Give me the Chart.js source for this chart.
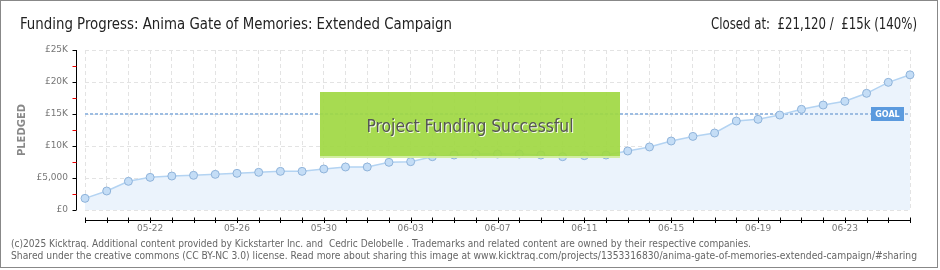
<!DOCTYPE html>
<html>
<head>
<meta charset="utf-8">
<script src="https://cdn.jsdelivr.net/npm/chart.js@4.4.1/dist/chart.umd.min.js"></script>
<style>
    html, body { margin: 0; padding: 0; background: #fff; }
    canvas { display: block; }
</style>
</head>
<body>
<canvas id="funding-chart" width="940" height="270"></canvas>
<script>
const days = [
    "05-19", "05-20", "05-21", "05-22", "05-23", "05-24", "05-25", "05-26",
    "05-27", "05-28", "05-29", "05-30", "05-31", "06-01", "06-02", "06-03",
    "06-04", "06-05", "06-06", "06-07", "06-08", "06-09", "06-10", "06-11",
    "06-12", "06-13", "06-14", "06-15", "06-16", "06-17", "06-18", "06-19",
    "06-20", "06-21", "06-22", "06-23", "06-24", "06-25", "06-26"
];
const pledged = [
    1820, 2970, 4480, 5100, 5310, 5420, 5570, 5730,
    5890, 6040, 6040, 6410, 6720, 6720, 7450, 7550,
    8330, 8590, 8750, 8750, 8750, 8590, 8330, 8490,
    8590, 9220, 9850, 10780, 11500, 12030, 13900, 14170,
    14840, 15730, 16400, 16980, 18230, 19950, 21120
];
const shownDays = ["05-22", "05-26", "05-30", "06-03", "06-07", "06-11", "06-15", "06-19", "06-23"];
const yTicks = [0, 5000, 10000, 15000, 20000, 25000];
const yTickLabels = ["£0", "£5,000", "£10K", "£15K", "£20K", "£25K"];
const goal = 15000;

const titleText = "Funding Progress: Anima Gate of Memories: Extended Campaign";
const closedText = "Closed at:  £21,120 /  £15k (140%)";
const successText = "Project Funding Successful";
const footerLines = [
    "(c)2025 Kicktraq. Additional content provided by Kickstarter Inc. and  Cedric Delobelle . Trademarks and related content are owned by their respective companies.",
    "Shared under the creative commons (CC BY-NC 3.0) license. Read more about sharing this image at www.kicktraq.com/projects/1353316830/anima-gate-of-memories-extended-campaign/#sharing"
];

const TITLE_FONT = "'Liberation Sans Narrow', 'DejaVu Sans Condensed', sans-serif";
const SMALL_FONT = "'DejaVu Sans', sans-serif";

// everything kicktraq draws around the plot
const decor = {
    id: "decor",
    beforeDatasetsDraw(chart) {
        // the filler runs first (drawTime below), so this lands on top of the fill
        const { ctx, chartArea, scales } = chart;
        const gy = Math.round(scales.y.getPixelForValue(goal));
        ctx.save();
        ctx.strokeStyle = "#9dbde2";
        ctx.lineWidth = 2;
        ctx.setLineDash([3, 2]);
        ctx.beginPath();
        ctx.moveTo(chartArea.left, gy);
        ctx.lineTo(chartArea.right, gy);
        ctx.stroke();
        ctx.restore();
    },
    afterDraw(chart) {
        const { ctx, chartArea, scales } = chart;
        const w = chart.width;
        ctx.save();

        // success banner
        const bx = w / 2 - 150, by = 92;
        ctx.fillStyle = "rgba(160, 216, 66, 0.92)";
        ctx.fillRect(bx, by, 300, 66);
        ctx.fillStyle = "rgba(215, 240, 170, 0.9)";
        ctx.fillRect(bx, by + 64, 300, 2);
        ctx.font = "18px " + TITLE_FONT;
        ctx.textAlign = "center";
        ctx.textBaseline = "middle";
        ctx.fillStyle = "#f4fbe8";
        ctx.fillText(successText, w / 2 + 1, by + 35 + 1, 207);
        ctx.fillStyle = "#555";
        ctx.fillText(successText, w / 2, by + 35, 207);

        // goal tag
        const gy = Math.round(scales.y.getPixelForValue(goal));
        ctx.fillStyle = "#5b9ade";
        ctx.fillRect(chartArea.right - 39, gy - 7, 33, 14);
        ctx.fillStyle = "#fff";
        ctx.font = "bold 8px " + SMALL_FONT;
        ctx.fillText("GOAL", chartArea.right - 22.5, gy + 0.5);

        // y axis line with major / minor ticks
        const ax = chartArea.left - 8.5;
        ctx.strokeStyle = "#000";
        ctx.lineWidth = 1;
        ctx.beginPath();
        ctx.moveTo(ax, chartArea.top);
        ctx.lineTo(ax, chartArea.bottom);
        ctx.stroke();
        for (const t of scales.y.ticks) {
            const py = Math.round(scales.y.getPixelForValue(t.value)) + 0.5;
            ctx.strokeStyle = yTicks.includes(t.value) ? "#000" : "#e00";
            ctx.beginPath();
            ctx.moveTo(ax - 4, py);
            ctx.lineTo(ax, py);
            ctx.stroke();
        }

        // x axis line, a little below the plot
        const ay = chartArea.bottom + 10.5;
        ctx.strokeStyle = "#000";
        ctx.beginPath();
        ctx.moveTo(chartArea.left, ay);
        ctx.lineTo(chartArea.right, ay);
        ctx.stroke();
        for (let i = 0; i < days.length; i++) {
            const px = Math.round(scales.x.getPixelForValue(i)) + 0.5;
            ctx.beginPath();
            ctx.moveTo(px, ay - 3);
            ctx.lineTo(px, ay + 2.5);
            ctx.stroke();
        }

        // header
        ctx.textBaseline = "alphabetic";
        ctx.fillStyle = "#222";
        ctx.font = "16px " + TITLE_FONT;
        ctx.textAlign = "left";
        ctx.fillText(titleText, 20, 29, 432);
        ctx.textAlign = "right";
        ctx.fillText(closedText, 917, 29, 206);

        // footer
        ctx.textAlign = "left";
        ctx.fillStyle = "#666";
        ctx.font = "10px " + SMALL_FONT;
        ctx.fillText(footerLines[0], 11, 247, 740);
        ctx.fillText(footerLines[1], 11, 259, 906);

        // frame
        ctx.strokeStyle = "#888";
        ctx.lineWidth = 1;
        ctx.strokeRect(0.5, 0.5, 937, 267);
        ctx.restore();
    }
};

new Chart(document.getElementById("funding-chart"), {
    type: "line",
    data: {
        labels: days,
        datasets: [{
            data: pledged,
            borderColor: "#b3d3f2",
            borderWidth: 1.5,
            backgroundColor: "#ebf3fc",
            fill: "origin",
            tension: 0,
            pointRadius: 4,
            pointBorderWidth: 1,
            pointBackgroundColor: "#c4ddf6",
            pointBorderColor: "#8fb3da",
            clip: false
        }]
    },
    options: {
        responsive: false,
        devicePixelRatio: 1,
        animation: false,
        layout: { padding: { top: 50, right: 30, bottom: 30, left: 0 } },
        plugins: {
            legend: { display: false },
            tooltip: { enabled: false },
            filler: { drawTime: "beforeDatasetsDraw" }
        },
        scales: {
            x: {
                afterFit: s => { s.height = 30; },
                grid: { color: "#e3e3e3", drawTicks: false },
                border: { display: false, dash: [4, 3] },
                ticks: {
                    autoSkip: false,
                    maxRotation: 0,
                    padding: 13,
                    color: "#777",
                    font: { size: 9, family: SMALL_FONT },
                    callback: (v, i) => shownDays.includes(days[i]) ? days[i] : ""
                }
            },
            y: {
                min: 0,
                max: 25000,
                afterFit: s => { s.width = 85; },
                grid: {
                    drawTicks: false,
                    color: ctx => yTicks.includes(ctx.tick.value) ? "#e3e3e3" : "rgba(0,0,0,0)"
                },
                border: { display: false, dash: [4, 3] },
                title: {
                    display: true,
                    text: "PLEDGED",
                    color: "#888",
                    font: { size: 10, weight: "bold", family: SMALL_FONT },
                    padding: { top: 16, bottom: 0 }
                },
                ticks: {
                    stepSize: 2500,
                    autoSkip: false,
                    padding: 17,
                    color: "#777",
                    font: { size: 9, family: SMALL_FONT },
                    callback: v => {
                        const k = yTicks.indexOf(v);
                        return k >= 0 ? yTickLabels[k] : "";
                    }
                }
            }
        }
    },
    plugins: [decor]
});
</script>
</body>
</html>
